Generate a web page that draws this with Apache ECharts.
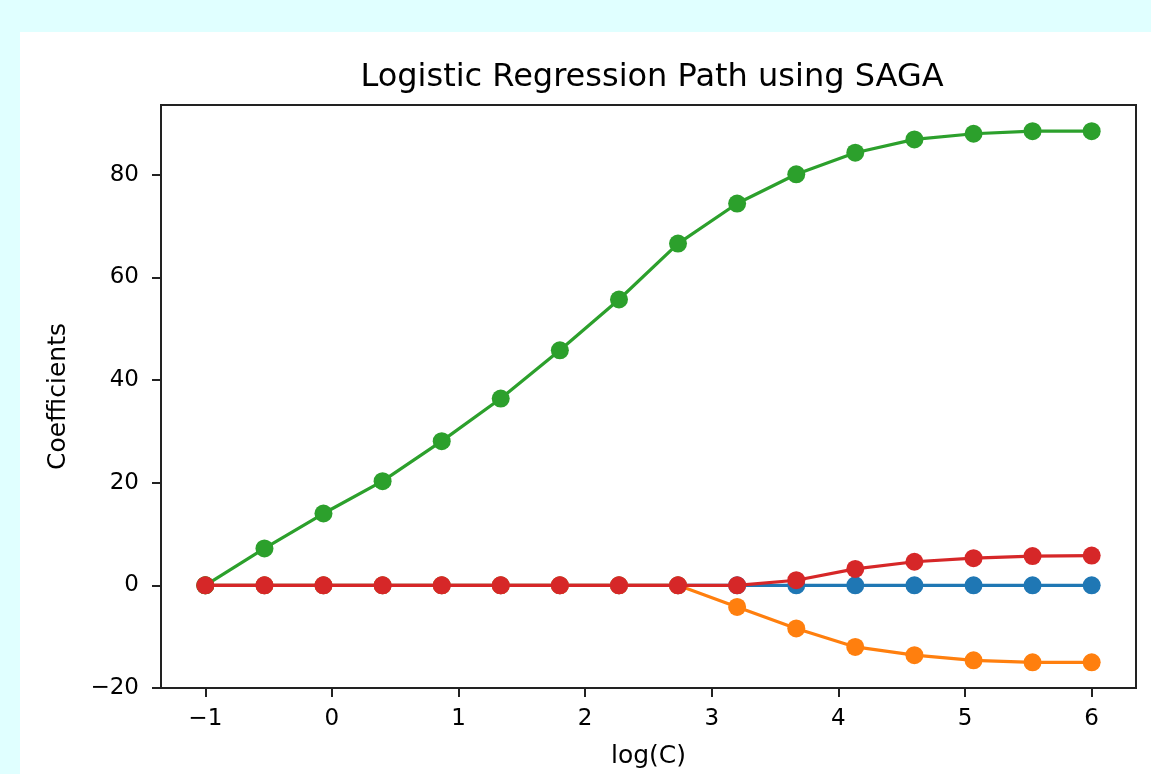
<!DOCTYPE html>
<html>
<head>
<meta charset="utf-8">
<script src="https://cdn.jsdelivr.net/npm/echarts@6/dist/echarts.min.js"></script>
<style>
html,body{margin:0;padding:0;background:#e0ffff;}
#chart{width:1151px;height:774px;}
</style>
</head>
<body>
<div id="chart"></div>
<script>
const logC = [-1, -0.533, -0.067, 0.4, 0.867, 1.333, 1.8, 2.267, 2.733, 3.2, 3.667, 4.133, 4.6, 5.067, 5.533, 6];
const coefBlue   = [0, 0, 0, 0, 0, 0, 0, 0, 0, 0, 0, 0, 0, 0, 0, 0];
const coefOrange = [0, 0, 0, 0, 0, 0, 0, 0, 0, -4.2, -8.4, -12.0, -13.6, -14.6, -15.0, -15.0];
const coefGreen  = [0, 7.2, 14.0, 20.3, 28.1, 36.4, 45.8, 55.7, 66.6, 74.4, 80.1, 84.3, 86.9, 88.0, 88.5, 88.5];
const coefRed    = [0, 0, 0, 0, 0, 0, 0, 0, 0, 0, 1.0, 3.2, 4.6, 5.3, 5.7, 5.8];
const xTicks = [-1, 0, 1, 2, 3, 4, 5, 6];
const yTicks = [-20, 0, 20, 40, 60, 80];
const seriesNames = ['coef 0', 'coef 1', 'coef 2', 'coef 3'];
const seriesColors = ['#1f77b4', '#ff7f0e', '#2ca02c', '#d62728'];
const seriesValues = [coefBlue, coefOrange, coefGreen, coefRed];

const fmt = v => (v < 0 ? '\u2212' + Math.abs(v) : String(v));
const font = 'DejaVu Sans';

const chart = echarts.init(document.getElementById('chart'), null, {renderer: 'canvas'});
chart.setOption({
  animation: false,
  backgroundColor: '#e0ffff',
  graphic: [{
    type: 'rect', z: -10, silent: true,
    shape: {x: 20, y: 32, width: 1131, height: 742},
    style: {fill: '#ffffff'}
  }],
  title: {
    text: 'Logistic Regression Path using SAGA',
    left: 647, top: 57, textAlign: 'center',
    textStyle: {fontFamily: font, fontSize: 32, fontWeight: 'normal', color: '#000'}
  },
  grid: {
    left: 161, top: 105, width: 975, height: 585,
    show: true, borderColor: '#222', borderWidth: 2, backgroundColor: 'transparent'
  },
  xAxis: {
    type: 'value', min: -1.35, max: 6.35,
    name: 'log(C)', nameLocation: 'middle', nameGap: 56,
    nameTextStyle: {fontFamily: font, fontSize: 25, color: '#000'},
    axisLine: {show: true, onZero: false, lineStyle: {color: '#222', width: 2}},
    axisTick: {show: true, inside: false, length: 9, lineStyle: {color: '#222', width: 2}, customValues: xTicks},
    axisLabel: {show: true, margin: 20, fontFamily: font, fontSize: 23, color: '#000', customValues: xTicks, formatter: fmt},
    splitLine: {show: false}
  },
  yAxis: {
    type: 'value', min: -20, max: 93.6,
    name: 'Coefficients', nameLocation: 'middle', nameGap: 90, nameRotate: 90,
    nameTextStyle: {fontFamily: font, fontSize: 25, color: '#000'},
    axisLine: {show: true, onZero: false, lineStyle: {color: '#222', width: 2}},
    axisTick: {show: true, inside: false, length: 9, lineStyle: {color: '#222', width: 2}, customValues: yTicks},
    axisLabel: {show: true, margin: 22, fontFamily: font, fontSize: 23, color: '#000', customValues: yTicks, formatter: fmt},
    splitLine: {show: false}
  },
  series: seriesValues.map((vals, i) => ({
    name: seriesNames[i],
    type: 'line',
    data: logC.map((x, j) => [x, vals[j]]),
    symbol: 'circle', symbolSize: 18,
    showAllSymbol: true,
    lineStyle: {color: seriesColors[i], width: 3.2},
    itemStyle: {color: seriesColors[i], borderWidth: 0},
    emphasis: {disabled: true},
    z: 2 + i
  }))
});
</script>
</body>
</html>
